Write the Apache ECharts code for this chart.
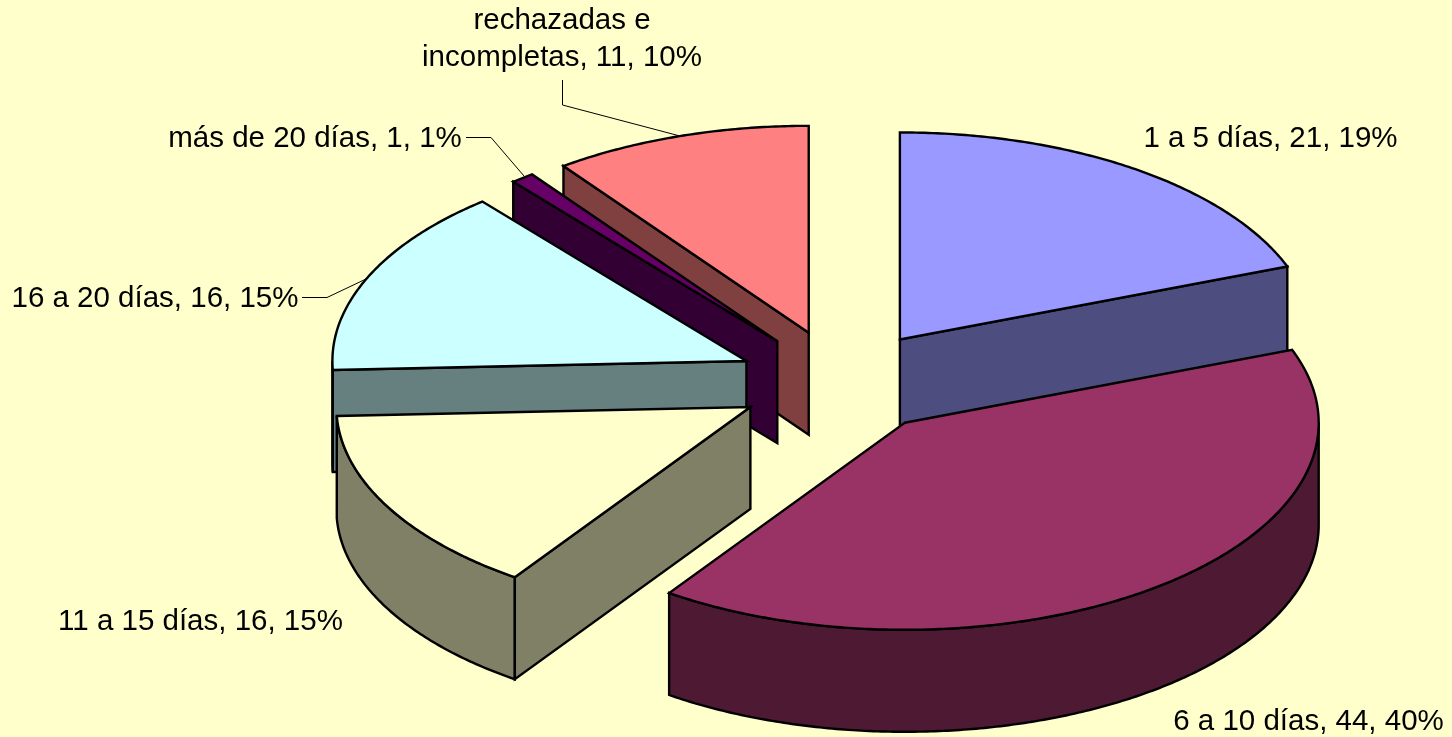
<!DOCTYPE html>
<html><head><meta charset="utf-8">
<style>html,body{margin:0;padding:0;background:#FFFFCC}#c{width:1452px;height:737px}</style>
<script src="https://cdn.jsdelivr.net/npm/echarts@6/dist/echarts.min.js"></script>
</head><body><div id="c"></div>
<script>
const categories = ['1 a 5 días','6 a 10 días','11 a 15 días','16 a 20 días','más de 20 días','rechazadas e\nincompletas'];
const values = [21,44,16,16,1,11];
const percents = [19,40,15,15,1,10];
const topColors = ['#9999FF','#993366','#FFFFCC','#CCFFFF','#660066','#FF8080'];
const sideColors = ['#4D4D80','#4D1933','#808066','#668080','#330033','#804040'];
const geom = {cx:841, cy:382, rx:414, ry:207, depth:102, explode:0.25};
const labelPos = [[1270.5,139],[1308.5,722],[200.5,622],[155,299],[315,139],[562,39]];
const leaders = [null,null,null,
  [[302,297.5],[327,297.5],[366,279]],
  [[466,137.5],[491,137.5],[524,176]],
  [[562.5,80],[562.5,105],[680,136]]];

const total = values.reduce((a,b)=>a+b,0);
const starts = []; values.reduce((s,v,i)=>{starts[i]=s; return s+v/total*Math.PI*2;},0);
const pt = (c,t)=>[c[0]+geom.rx*Math.sin(t), c[1]-geom.ry*Math.cos(t)];
const dn = p=>[p[0],p[1]+geom.depth];
const STROKE = {stroke:'#000',lineWidth:2.4,lineJoin:'miter'};

function renderItem(params, api){
  const i = params.dataIndex, v = api.value(0);
  const a = starts[i], b = a + v/total*Math.PI*2, m=(a+b)/2;
  const c = [geom.cx+geom.explode*geom.rx*Math.sin(m), geom.cy-geom.explode*geom.ry*Math.cos(m)];
  const N = Math.max(4,Math.ceil((b-a)/0.01));
  const arc=[]; for(let k=0;k<=N;k++) arc.push(pt(c,a+(b-a)*k/N));
  const z=Math.round(c[1])*3;
  const kids=[];
  const poly=(pts,fill,dz)=>kids.push({type:'polygon',z2:z+dz,shape:{points:pts},style:Object.assign({fill},STROKE)});
  const lo=Math.max(a,Math.PI/2), hi=Math.min(b,Math.PI*1.5);
  if(hi>lo){
    const front=[]; const n=Math.ceil((hi-lo)/0.01);
    for(let k=0;k<=n;k++) front.push(pt(c,lo+(hi-lo)*k/n));
    poly(front.concat(front.slice().reverse().map(dn)),sideColors[i],0);
  }
  const pa=pt(c,a), pb=pt(c,b);
  if(Math.sin(a)<-1e-6) poly([c,pa,dn(pa),dn(c)],sideColors[i],1);
  if(Math.sin(b)>1e-6) poly([c,pb,dn(pb),dn(c)],sideColors[i],1);
  poly([c].concat(arc),topColors[i],2);
  return {type:'group',children:kids};
}

const chart = echarts.init(document.getElementById('c'),null,{renderer:'canvas'});
const graphics=[];
categories.forEach((name,i)=>{
  graphics.push({type:'text',z:10,x:labelPos[i][0],y:labelPos[i][1],style:{
    text:name+', '+values[i]+', '+percents[i]+'%',
    fontFamily:'"Liberation Sans",Arial,sans-serif',fontSize:29.5,fill:'#000',
    align:'center',verticalAlign:'middle',lineHeight:37}});
  if(leaders[i]) graphics.push({type:'polyline',z:1,shape:{points:leaders[i]},style:{stroke:'#000',lineWidth:1,fill:null}});
});
chart.setOption({
  backgroundColor:'#FFFFCC',animation:false,
  graphic:graphics,
  series:[{type:'custom',coordinateSystem:'none',renderItem,data:values.map(v=>[v]),z:2,silent:true}]
});
</script></body></html>
